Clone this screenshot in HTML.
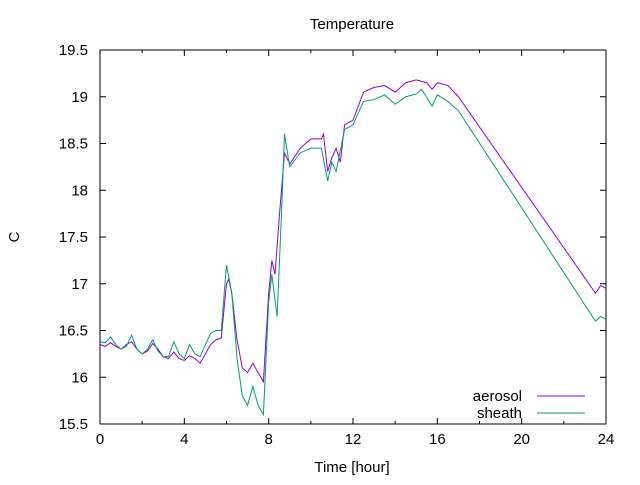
<!DOCTYPE html>
<html><head><meta charset="utf-8"><style>
body{margin:0;background:#fff}
text{font-family:"Liberation Sans",sans-serif;font-size:15px;fill:#000}
</style></head><body>
<svg id="chart" width="640" height="480" xmlns="http://www.w3.org/2000/svg">
<text x="352" y="29" text-anchor="middle">Temperature</text>
<text x="19" y="237" text-anchor="middle" transform="rotate(-90 19 237)">C</text>
<text x="352" y="472" text-anchor="middle">Time [hour]</text>
<g id="axes"></g>
<g id="series"></g>
<g>
<text x="522" y="401" text-anchor="end">aerosol</text>
<line x1="537" y1="396" x2="585" y2="396" stroke="#9400d3" stroke-width="1"/>
<text x="522" y="418" text-anchor="end">sheath</text>
<line x1="537" y1="413" x2="585" y2="413" stroke="#009e73" stroke-width="1"/>
</g>
</svg>
<script>
const xTicks=[0,4,8,12,16,20,24];
const yTicks=[15.5,16,16.5,17,17.5,18,18.5,19,19.5];
const yTickLabels=["15.5","16","16.5","17","17.5","18","18.5","19","19.5"];
const aerosolHours=[0,0.25,0.5,0.75,1,1.25,1.5,1.75,2,2.25,2.5,2.75,3,3.25,3.5,3.75,4,4.25,4.5,4.75,5,5.25,5.5,5.75,6,6.1,6.25,6.5,6.75,7,7.25,7.5,7.75,8,8.15,8.3,8.5,8.75,9,9.5,10,10.5,10.6,10.8,11,11.2,11.4,11.6,12,12.5,13,13.5,14,14.5,15,15.5,15.75,16,16.5,17,23.5,23.75,24];
const aerosolValues=[16.35,16.33,16.37,16.33,16.3,16.35,16.38,16.3,16.25,16.28,16.36,16.3,16.22,16.2,16.27,16.2,16.18,16.23,16.2,16.15,16.25,16.35,16.4,16.42,17.0,17.05,16.9,16.4,16.1,16.05,16.15,16.05,15.95,16.9,17.25,17.1,17.7,18.4,18.28,18.45,18.55,18.55,18.6,18.2,18.35,18.45,18.3,18.7,18.75,19.05,19.1,19.12,19.05,19.15,19.18,19.15,19.08,19.15,19.12,19.0,16.9,16.98,16.95];
const sheathHours=[0,0.25,0.5,0.75,1,1.25,1.5,1.75,2,2.25,2.5,2.75,3,3.25,3.5,3.75,4,4.25,4.5,4.75,5,5.25,5.5,5.75,6,6.25,6.5,6.75,7,7.25,7.5,7.75,8,8.15,8.4,8.6,8.75,9,9.5,10,10.5,10.8,11,11.2,11.6,12,12.5,13,13.5,14,14.5,15,15.25,15.75,16,16.5,17,23.5,23.75,24];
const sheathValues=[16.38,16.37,16.43,16.35,16.3,16.33,16.45,16.3,16.25,16.3,16.4,16.28,16.22,16.22,16.38,16.25,16.2,16.35,16.25,16.22,16.35,16.47,16.5,16.5,17.2,16.9,16.2,15.8,15.7,15.9,15.7,15.6,16.8,17.1,16.65,17.7,18.6,18.25,18.4,18.45,18.45,18.1,18.3,18.2,18.65,18.7,18.95,18.97,19.02,18.92,19.0,19.03,19.08,18.9,19.02,18.95,18.85,16.6,16.65,16.62];
const L=100,R=606,T=50,B=424,NS="http://www.w3.org/2000/svg";
const xs=h=>L+(h-0)/(24-0)*(R-L);
const ys=v=>B-(v-15.5)/(19.5-15.5)*(B-T);
const ax=document.getElementById('axes');
function mk(t,a,p){const e=document.createElementNS(NS,t);for(const k in a)e.setAttribute(k,a[k]);p.appendChild(e);return e;}
const frame=mk('rect',{x:L,y:T,width:R-L,height:B-T,fill:'none',stroke:'#000','stroke-width':1},ax);


xTicks.forEach(t=>{const x=xs(t);
const l=mk('path',{d:`M${x},${B}v-6M${x},${T}v6`,stroke:'#000'},ax);


const tx=mk('text',{x:x,y:B+20,'text-anchor':'middle'},ax);tx.textContent=t;


});
for(let t=2;t<24;t+=4){const x=xs(t);mk('path',{d:`M${x},${B}v-3M${x},${T}v3`,stroke:'#000'},ax);}
yTicks.forEach((t,i)=>{const y=ys(t);
const l=mk('path',{d:`M${L},${y}h6M${R},${y}h-6`,stroke:'#000'},ax);


const tx=mk('text',{x:L-12,y:y+5,'text-anchor':'end'},ax);tx.textContent=yTickLabels[i];


});
const sg=document.getElementById('series');
function line(h,v,c,n){const p=mk('polyline',{points:h.map((x,i)=>xs(x)+','+ys(v[i])).join(' '),fill:'none',stroke:c,'stroke-width':1},sg);

}
line(aerosolHours,aerosolValues,'#9400d3','aerosol-line');
line(sheathHours,sheathValues,'#009e73','sheath-line');
</script>
</body></html>
